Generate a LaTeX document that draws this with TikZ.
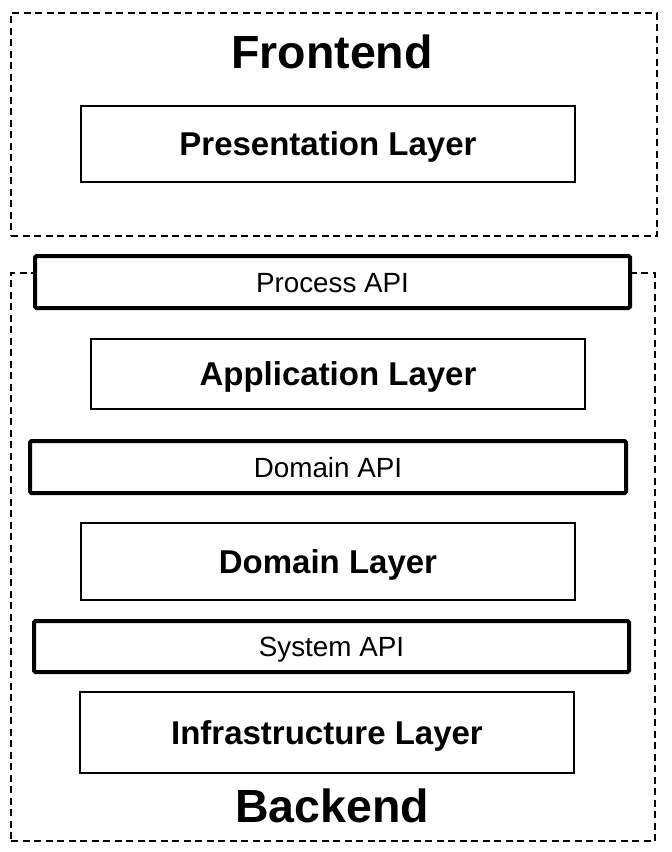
\documentclass[tikz,border=0pt]{standalone}
\usepackage{fontspec}
\setmainfont{Liberation Sans}
\begin{document}
\begin{tikzpicture}[x=1pt,y=-1pt,
  group/.style={draw, line width=1.3pt, dash pattern=on 7pt off 4.5pt, inner sep=0pt},
  layer/.style={draw, fill=white, line width=1.8pt, inner sep=0pt, text height=23.8pt, text depth=0pt, font=\fontsize{33}{36}\selectfont\bfseries},
  api/.style={draw, fill=white, line width=4pt, rounded corners=1.5pt, inner sep=0pt, text height=20pt, text depth=0pt, font=\fontsize{27.8}{31}\selectfont},
  title/.style={inner sep=0pt, font=\fontsize{46.5}{50}\selectfont\bfseries}]
\useasboundingbox (0,0) rectangle (672,852);
\node[group, minimum width=646pt, minimum height=223pt] (fe) at (334,124.5) {};
\node[group, minimum width=644pt, minimum height=568pt] (be) at (333,557) {};
\node[title] (fet) at (332,52) {Frontend};
\node[title] (bet) at (332,806) {Backend};
\node[layer, minimum width=494pt, minimum height=76pt] (pres) at (328,144) {Presentation Layer};
\node[api, minimum width=595pt, minimum height=52pt] (papi) at (332.5,282) {Process API};
\node[layer, minimum width=494pt, minimum height=70pt] (app) at (338,374) {Application Layer};
\node[api, minimum width=596pt, minimum height=52pt] (dapi) at (328,467) {Domain API};
\node[layer, minimum width=494pt, minimum height=77pt] (dom) at (328,561.5) {Domain Layer};
\node[api, minimum width=595pt, minimum height=51pt] (sapi) at (331.5,646.5) {System API};
\node[layer, minimum width=494pt, minimum height=81pt] (infra) at (327,732.5) {Infrastructure Layer};
\end{tikzpicture}
\end{document}
